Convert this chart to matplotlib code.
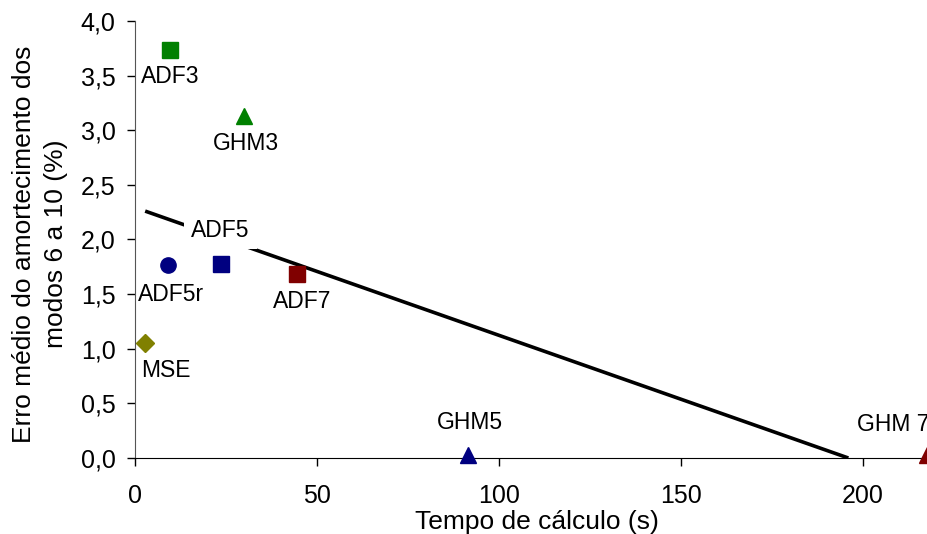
import matplotlib
matplotlib.use("Agg")
import matplotlib.pyplot as plt
from matplotlib.ticker import FuncFormatter

plt.rcParams['font.family'] = ['Liberation Sans', 'DejaVu Sans']

# Data
names   = ["ADF3", "GHM3", "ADF5r", "ADF5", "ADF7", "MSE", "GHM5", "GHM7"]
tempo   = [9.6, 30.0, 9.2, 23.5, 44.5, 2.8, 91.5, 217.6]
erro    = [3.73, 3.13, 1.77, 1.78, 1.68, 1.05, 0.03, 0.03]
markers = ["s", "^", "o", "s", "s", "D", "^", "^"]
colors  = ["#008000", "#008000", "#000080", "#000080", "#800000", "#808000", "#000080", "#800000"]
label_names = ["ADF3", "GHM3", "ADF5r", "ADF5", "ADF7", "MSE", "GHM5", "GHM 7"]
# label offsets in points (dx, dy)
label_off = [(0, -19), (1.5, -19.5), (1.5, -21.5), (0, 24), (4, -19.5), (15, -19.5), (1.5, 23), (-24, 22)]

trend_x = [2.8, 196.0]
trend_y = [2.26, 0.0]

fig = plt.figure(figsize=(9.27, 5.34), dpi=100)
ax = fig.add_axes([0.1456, 0.1423, 0.8544, 0.8184])

ax.plot(trend_x, trend_y, color="black", lw=2.6, zorder=2, solid_capstyle="butt")

sizes = {"s": 11, "^": 12, "o": 11, "D": 9}
for x, y, m, c in zip(tempo, erro, markers, colors):
    ax.plot([x], [y], marker=m, color=c, ms=sizes[m], ls="none", zorder=4, clip_on=False)

for x, y, nm, (dx, dy) in zip(tempo, erro, label_names, label_off):
    bb = dict(facecolor="white", edgecolor="none", pad=5) if nm == "ADF5" else None
    ax.annotate(nm, (x, y), xytext=(dx, dy), textcoords="offset points",
                ha="center", va="center", fontsize=16.5, zorder=3, bbox=bb,
                annotation_clip=False)

ax.set_xlim(0, 217.6)
ax.set_ylim(0, 4.0)
ax.set_xticks([0, 50, 100, 150, 200])
ax.set_yticks([0, 0.5, 1.0, 1.5, 2.0, 2.5, 3.0, 3.5, 4.0])
ax.yaxis.set_major_formatter(FuncFormatter(lambda v, p: f"{v:.1f}".replace(".", ",")))
ax.tick_params(axis="both", labelsize=18, direction="out", length=6, width=1, color="black")
ax.tick_params(axis="x", pad=13)
ax.tick_params(axis="y", pad=8)
ax.spines["top"].set_visible(False)
ax.spines["right"].set_visible(False)
ax.spines["left"].set_color("#555555")
ax.spines["bottom"].set_color("black")

ax.set_xlabel("Tempo de cálculo (s)", fontsize=19, labelpad=0)
ax.xaxis.set_label_coords(0.507, -0.118)
ax.set_ylabel("Erro médio do amortecimento dos\nmodos 6 a 10 (%)", fontsize=19, linespacing=1.45)
ax.yaxis.set_label_coords(-0.084, 0.49)

fig.savefig("out.png", dpi=100)
